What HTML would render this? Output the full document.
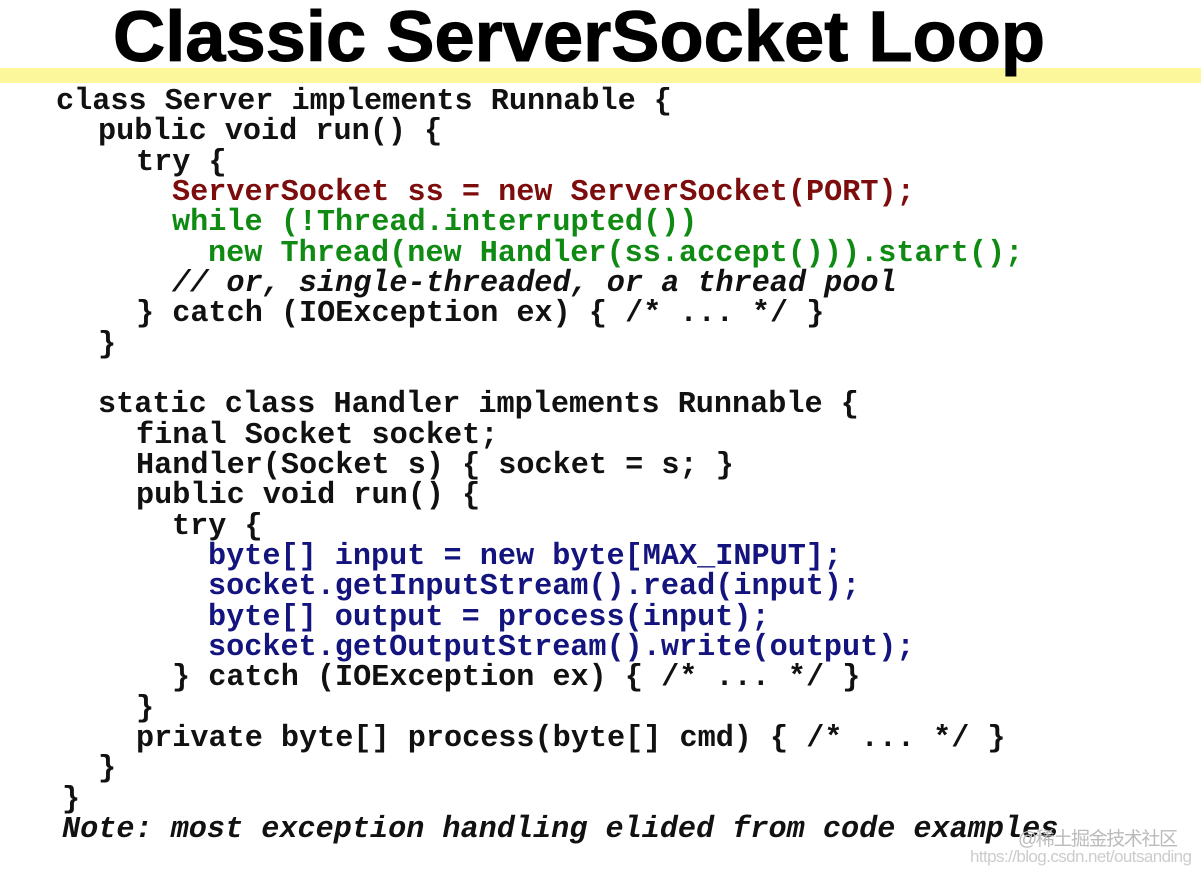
<!DOCTYPE html>
<html><head><meta charset="utf-8"><style>
html,body{margin:0;padding:0;background:#fff;width:1201px;height:872px;overflow:hidden}
svg{display:block}
.c{font-family:"Liberation Mono",monospace;font-weight:bold;font-size:30.2px;white-space:pre}
.r{fill:#7d0c0c}.g{fill:#0f8a12}.b{fill:#14147f}.k{fill:#111}
</style></head><body>
<svg width="1201" height="872" xmlns="http://www.w3.org/2000/svg">
<rect x="0" y="68" width="1201" height="15" fill="#fbf79a"/>
<text x="113" y="61" font-family="Liberation Sans,sans-serif" font-weight="bold" font-size="71" textLength="932" lengthAdjust="spacingAndGlyphs" fill="#000" stroke="#000" stroke-width="1">Classic ServerSocket Loop</text>
<g class="c">
<text class="k" x="56" y="109">class Server implements Runnable {</text>
<text class="k" x="98" y="139">public void run() {</text>
<text class="k" x="136" y="170">try {</text>
<text class="r" x="172" y="200">ServerSocket ss = new ServerSocket(PORT);</text>
<text class="g" x="172" y="230">while (!Thread.interrupted())</text>
<text class="g" x="208" y="261">new Thread(new Handler(ss.accept())).start();</text>
<text class="k" x="172" y="291" font-style="italic">// or, single-threaded, or a thread pool</text>
<text class="k" x="136" y="321">} catch (IOException ex) { /* ... */ }</text>
<text class="k" x="98" y="352">}</text>
<text class="k" x="98" y="412">static class Handler implements Runnable {</text>
<text class="k" x="136" y="443">final Socket socket;</text>
<text class="k" x="136" y="473">Handler(Socket s) { socket = s; }</text>
<text class="k" x="136" y="503">public void run() {</text>
<text class="k" x="172" y="534">try {</text>
<text class="b" x="208" y="564">byte[] input = new byte[MAX_INPUT];</text>
<text class="b" x="208" y="594">socket.getInputStream().read(input);</text>
<text class="b" x="208" y="625">byte[] output = process(input);</text>
<text class="b" x="208" y="655">socket.getOutputStream().write(output);</text>
<text class="k" x="172" y="685">} catch (IOException ex) { /* ... */ }</text>
<text class="k" x="136" y="716">}</text>
<text class="k" x="136" y="746">private byte[] process(byte[] cmd) { /* ... */ }</text>
<text class="k" x="98" y="776">}</text>
<text class="k" x="62" y="807">}</text>
<text class="k" x="62" y="837" font-style="italic">Note: most exception handling elided from code examples</text>
</g>
<text x="1018" y="845" font-family="Liberation Sans,'Noto Sans CJK SC',sans-serif" font-size="19" fill="#bbb" textLength="160">@稀土掘金技术社区</text>
<text x="970" y="862" font-family="Liberation Sans,sans-serif" font-size="17" fill="#ccc" textLength="222">https://blog.csdn.net/outsanding</text>
</svg>
</body></html>
